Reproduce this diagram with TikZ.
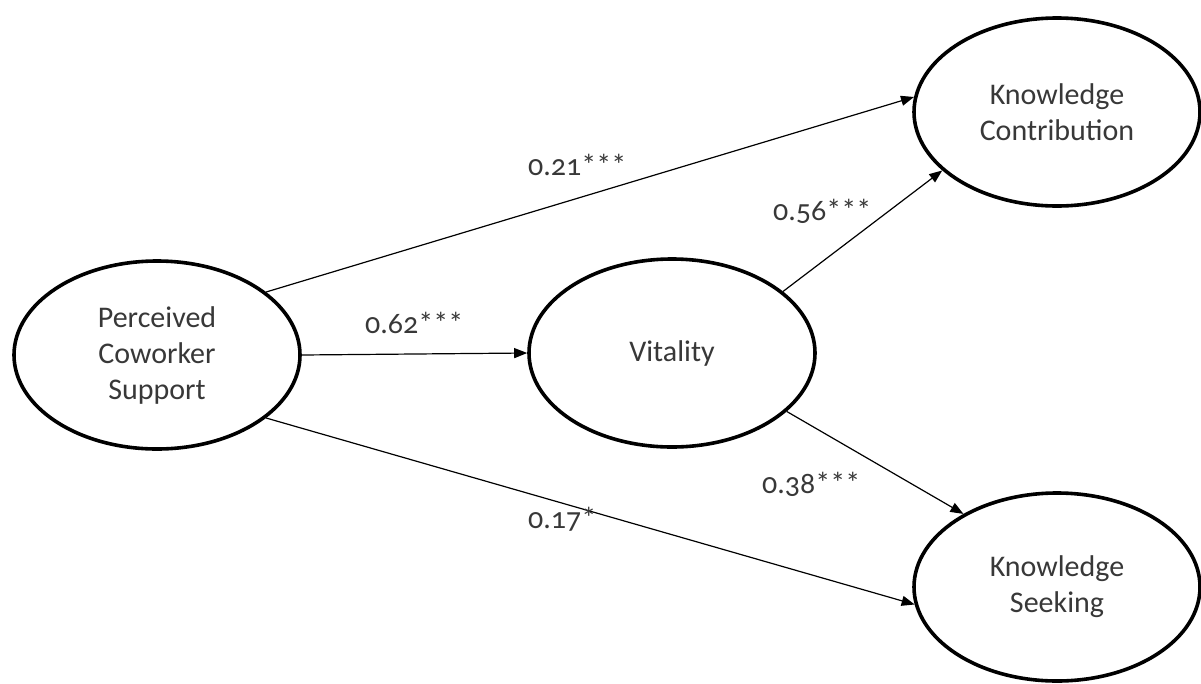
\documentclass[tikz,border=0pt]{standalone}
\usepackage{fontspec}
\setmainfont{Carlito}[Numbers=OldStyle]
\usetikzlibrary{shapes.geometric,arrows.meta}
\begin{document}
\begin{tikzpicture}[x=1pt,y=-1pt,
  latent/.style={ellipse,draw=black,line width=3.6pt,inner sep=0pt,
    minimum width=286pt,minimum height=188pt,align=center,
    text=black!78,font=\fontsize{30}{36}\selectfont},
  path/.style={line width=1.2pt,-{Triangle[length=13pt,width=10pt]}},
  coef/.style={anchor=base west,inner sep=0pt,text=black!78,
    font=\fontsize{30}{36}\selectfont}]
\useasboundingbox (0,0) rectangle (1201,683);
\node[latent] (pcs) at (157,355) {Perceived\\Coworker\\Support};
\node[latent] (vit) at (672,353) {Vitality};
\node[latent] (kc) at (1057,112) {Knowledge\\Contribution};
\node[latent] (ks) at (1057,587) {Knowledge\\Seeking};
\draw[path] (pcs.30) -- (kc.174);
\draw[path] (pcs.east) -- (vit.west);
\draw[path] (pcs.-30) -- (ks.187);
\draw[path] (vit.29) -- (kc.207);
\draw[path] (vit.-27) -- (ks.142);
\node[coef] (c1) at (528,175) {0.21***};
\node[coef] (c2) at (365,333) {0.62***};
\node[coef] (c3) at (773,220) {0.56***};
\node[coef] (c4) at (762,493) {0.38***};
\node[coef] (c5) at (528,528) {0.17*};
\end{tikzpicture}
\end{document}
